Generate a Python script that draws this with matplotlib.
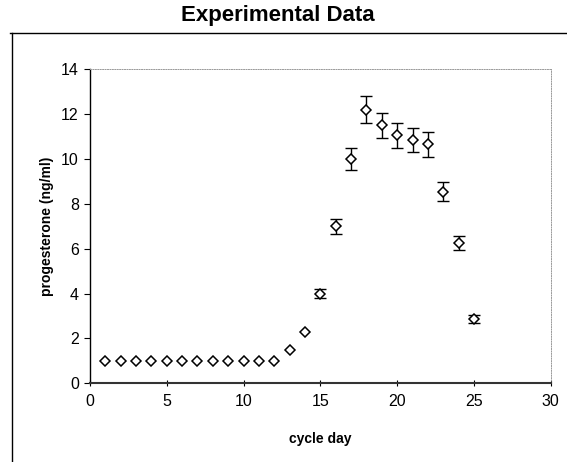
"""
Progesterone over the cycle - experimental data with error bars
"""

import numpy as np
import matplotlib
matplotlib.use('Agg')
import matplotlib.pyplot as plt
from matplotlib.lines import Line2D

plt.rcParams['font.family'] = ['Liberation Sans', 'DejaVu Sans']

#=================================================================
# Data

cycle_day = [1, 2, 3, 4, 5, 6, 7, 8, 9, 10, 11, 12, 13, 14, 15, 16, 17, 18,
             19, 20, 21, 22, 23, 24, 25]
progesterone = [1.0, 1.0, 1.0, 1.0, 1.0, 1.0, 1.0, 1.0, 1.0, 1.0, 1.0, 1.0,
                1.5, 2.3, 4.0, 7.0, 10.0, 12.2, 11.5, 11.05, 10.85, 10.65,
                8.55, 6.25, 2.87]
errors = [0, 0, 0, 0, 0, 0, 0, 0, 0, 0, 0, 0,
          0, 0, 0.2, 0.33, 0.5, 0.61, 0.55, 0.55, 0.53, 0.55,
          0.43, 0.3, 0.16]

xticks = [0, 5, 10, 15, 20, 25, 30]
yticks = [0, 2, 4, 6, 8, 10, 12, 14]

#=================================================================

mydpi = 100
fig = plt.figure(figsize=(567/mydpi, 462/mydpi), dpi=mydpi)
ax = fig.add_axes([0.1587, 0.1703, 0.8126, 0.6797])

# error bars only where there is an error
yerr = np.array(errors)
ax.errorbar(cycle_day, progesterone, yerr=np.where(yerr > 0, yerr, np.nan),
            fmt='none', ecolor='black', elinewidth=1.0, capsize=4,
            capthick=1.0, zorder=2)
ax.plot(cycle_day, progesterone, linestyle='none', marker='D',
        markersize=5.3, markerfacecolor='white', markeredgecolor='black',
        markeredgewidth=1.1, zorder=3)

ax.set_xlim(0, 30)
ax.set_ylim(0, 14)
ax.set_xticks(xticks)
ax.set_yticks(yticks)
ax.tick_params(axis='both', labelsize=11.5, length=4, width=0.8,
               colors='black')
ax.tick_params(axis='x', direction='inout', pad=6)
ax.tick_params(axis='y', direction='out', pad=4)

for side in ['top', 'right']:
    ax.spines[side].set_linestyle((0, (1, 1.5)))
    ax.spines[side].set_color('#999999')
    ax.spines[side].set_linewidth(0.7)
ax.spines['left'].set_linewidth(1.0)
ax.spines['bottom'].set_linewidth(1.5)
ax.spines['bottom'].set_color('#333333')

ax.set_xlabel('cycle day', fontsize=10, fontweight='bold', labelpad=16)
ax.set_ylabel('progesterone (ng/ml)', fontsize=10, fontweight='bold',
              labelpad=5)

fig.text(0.49, 0.966, 'Experimental Data', ha='center', va='center',
         fontsize=16, fontweight='bold')

# outer chart frame (top and left edges visible in the scan)
fig.add_artist(Line2D([0.018, 1.0], [0.929, 0.929], color='black',
                      linewidth=1.0, transform=fig.transFigure))
fig.add_artist(Line2D([0.021, 0.021], [0.0, 0.929], color='black',
                      linewidth=1.0, transform=fig.transFigure))

plt.savefig('out.png', dpi=mydpi)
